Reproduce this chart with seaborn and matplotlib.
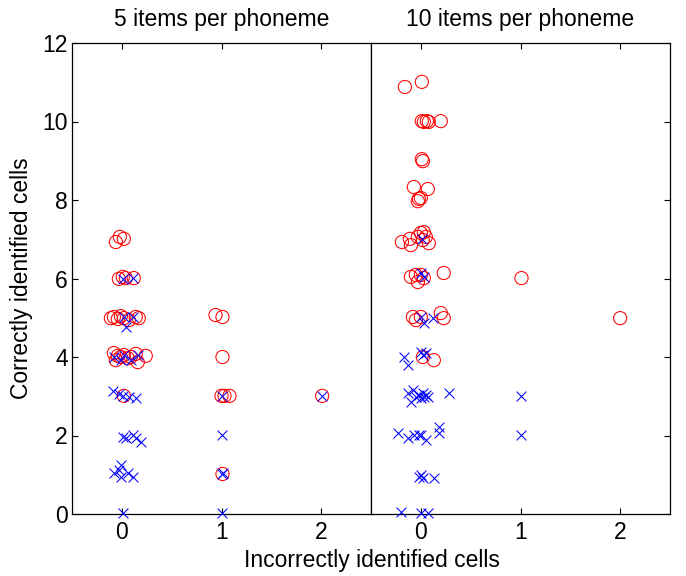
import matplotlib
matplotlib.use("Agg")
import matplotlib.pyplot as plt
import seaborn as sns
import pandas as pd

sns.set_style("white")
plt.rcParams["font.family"] = ["Liberation Sans", "DejaVu Sans"]
plt.rcParams["text.color"] = "black"
plt.rcParams["axes.labelcolor"] = "black"

panel_titles = ["5 items per phoneme", "10 items per phoneme"]
x_label = "Incorrectly identified cells"
y_label = "Correctly identified cells"
x_ticks = [0, 1, 2]
y_ticks = [0, 2, 4, 6, 8, 10, 12]

# 5 items per phoneme: circles (red) and crosses (blue), jittered positions
left_circle_x = [-0.06, -0.02, 0.02,
                 -0.03, 0.01, 0.04, 0.12,
                 -0.11, -0.08, -0.04, -0.01, 0.02, 0.07, 0.14, 0.17,
                 -0.08, -0.04, -0.06, -0.01, 0.02, 0.06, 0.09, 0.14, 0.16, 0.24,
                 0.02,
                 0.94, 1.01, 1.01, 1.00, 1.03, 1.08, 1.01,
                 2.01]
left_circle_y = [6.93, 7.06, 7.01,
                 5.99, 6.04, 6.01, 6.01,
                 4.99, 5.02, 4.97, 5.04, 4.99, 4.94, 5.02, 4.99,
                 4.10, 4.03, 3.92, 4.00, 4.05, 3.97, 4.00, 4.08, 3.87, 4.03,
                 3.01,
                 5.07, 5.02, 4.00, 3.01, 3.01, 3.01, 1.02,
                 3.01]
left_cross_x = [0.01, 0.11,
                0.02, 0.11, 0.04,
                -0.08, -0.01, 0.02, 0.09, 0.16,
                -0.09, -0.03, 0.01, 0.07, 0.14,
                0.01, 0.04, 0.11, 0.14, 0.19,
                -0.08, -0.01, -0.01, 0.06, 0.11, -0.03,
                0.01,
                1.01, 1.01, 1.01, 1.02, 1.01,
                2.01]
left_cross_y = [5.99, 6.01,
                5.02, 5.02, 4.76,
                4.00, 3.92, 4.05, 3.92, 4.05,
                3.13, 3.06, 3.01, 2.98, 2.96,
                1.96, 1.94, 2.01, 1.94, 1.83,
                1.04, 1.25, 0.94, 1.04, 0.94, 1.12,
                0.03,
                3.01, 2.01, 1.02, 1.04, 0.03,
                3.01]

# 10 items per phoneme
right_circle_x = [-0.16, 0.01,
                  0.01, 0.03, 0.06, 0.08, 0.20,
                  0.01, 0.02,
                  -0.07, 0.07, -0.03, -0.02, 0.00,
                  -0.19, -0.11, -0.10, -0.03, 0.00, 0.02, 0.03, 0.08, 0.05,
                  -0.10, -0.05, -0.03, 0.00, 0.03, 0.23,
                  -0.08, -0.05, 0.00, 0.20, 0.23,
                  0.02, 0.13,
                  1.01, 2.00]
right_circle_y = [10.88, 11.01,
                  10.01, 9.99, 10.01, 9.99, 10.01,
                  9.04, 8.99,
                  8.33, 8.28, 7.97, 8.03, 8.05,
                  6.93, 7.01, 6.85, 7.06, 7.16, 6.98, 7.18, 6.90, 7.06,
                  6.04, 6.09, 5.91, 6.09, 6.01, 6.14,
                  5.02, 4.94, 5.02, 5.12, 4.99,
                  4.00, 3.92,
                  6.01, 4.99]
right_cross_x = [0.01,
                 0.00, 0.03,
                 0.00, 0.03, 0.12,
                 -0.17, -0.13, 0.00, 0.02, 0.05,
                 -0.13, -0.10, -0.08, -0.05, -0.02, 0.00, 0.02, 0.03, 0.05, 0.07, 0.28,
                 -0.23, -0.13, -0.07, 0.00, 0.05, 0.18, 0.18, -0.02,
                 -0.02, 0.02, 0.13, 0.00,
                 -0.20, 0.00, 0.07,
                 1.01, 1.01]
right_cross_y = [7.01,
                 6.14, 6.04,
                 5.02, 4.87, 4.99,
                 4.00, 3.80, 4.13, 4.05, 4.10,
                 3.08, 2.85, 3.16, 2.98, 3.03, 2.96, 3.08, 2.98, 3.03, 2.98, 3.08,
                 2.06, 1.94, 2.01, 2.01, 1.89, 2.22, 2.06, 2.01,
                 0.94, 0.92, 0.92, 0.99,
                 0.05, 0.03, 0.03,
                 3.01, 2.01]

panels = [
    (left_circle_x, left_circle_y, left_cross_x, left_cross_y),
    (right_circle_x, right_circle_y, right_cross_x, right_cross_y),
]

FS = 16.5

fig = plt.figure(figsize=(6.86, 5.76), dpi=100)
W, H = 686, 576
bottom = 1 - 514 / H
height = (514 - 43) / H
rects = [(72 / W, bottom, (371 - 72) / W, height),
         (371 / W, bottom, (670 - 371) / W, height)]

for i, (rect, (cx, cy, xx, xy)) in enumerate(zip(rects, panels)):
    ax = fig.add_axes(rect)
    circles = pd.DataFrame({"x": cx, "y": cy})
    crosses = pd.DataFrame({"x": xx, "y": xy})
    sns.scatterplot(data=circles, x="x", y="y", ax=ax, marker="o", s=90,
                    facecolor="none", edgecolor="#ff0000", linewidth=0.75,
                    clip_on=False, zorder=3)
    sns.scatterplot(data=crosses, x="x", y="y", ax=ax, marker="x", s=50,
                    color="#0000ff", linewidth=0.75, clip_on=False, zorder=4)
    ax.set_xlim(-0.5, 2.5)
    ax.set_ylim(0, 12)
    ax.set_xticks(x_ticks)
    ax.set_yticks(y_ticks)
    ax.set_xlabel("")
    ax.set_ylabel("")
    ax.set_title(panel_titles[i], fontsize=FS, pad=12, color="black")
    for sp in ax.spines.values():
        sp.set_visible(True)
        sp.set_color("black")
        sp.set_linewidth(0.9)
    ax.tick_params(direction="in", length=4, width=0.8, labelsize=FS,
                   colors="black", top=True, bottom=True)
    ax.tick_params(axis="x", pad=5)
    ax.tick_params(axis="y", pad=3)
    if i == 0:
        ax.tick_params(axis="y", left=True, right=False, labelleft=True)
    else:
        ax.tick_params(axis="y", left=False, right=True, labelleft=False)

fig.text(372 / W, 1 - 561 / H, x_label, ha="center", va="center",
         fontsize=FS, color="black")
fig.text(22 / W, 1 - 278 / H, y_label, ha="center", va="center",
         rotation=90, fontsize=FS, color="black")

fig.savefig("out.png", dpi=100)
